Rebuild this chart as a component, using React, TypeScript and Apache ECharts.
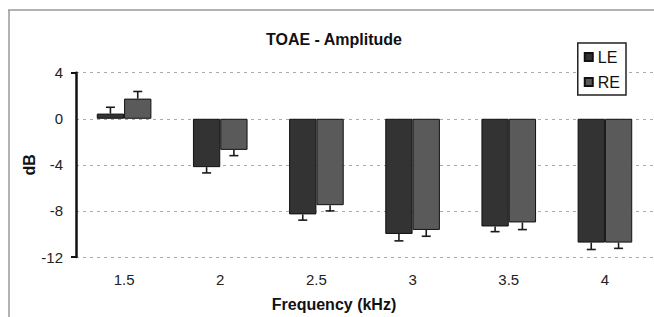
import React, { useEffect, useRef } from "react";
import * as echarts from "echarts";

const categories = ["1.5", "2", "2.5", "3", "3.5", "4"];
const leValues = [0.45, -4.2, -8.3, -10.0, -9.35, -10.75];
const reValues = [1.75, -2.7, -7.5, -9.65, -9.0, -10.75];
const leErrors = [0.55, 0.5, 0.5, 0.6, 0.45, 0.6];
const reErrors = [0.62, 0.5, 0.5, 0.55, 0.62, 0.5];
const yTicks = { min: -12, max: 4, interval: 4 };

const BAR_PCT = 0.284;
const FONT = "Liberation Sans, Arial, sans-serif";

function errorSeries(values: number[], errors: number[], side: number) {
  return {
    type: "custom",
    z: 5,
    silent: true,
    data: values.map((v, i) => [i, v, errors[i]]),
    renderItem: (_params: any, api: any) => {
      const i = api.value(0);
      const v = api.value(1);
      const e = api.value(2);
      const base = api.coord([i, v]);
      const end = api.coord([i, v + (v >= 0 ? e : -e)]);
      const band = api.size([1, 0])[0];
      const x = base[0] + (side * band * BAR_PCT) / 2;
      const cap = 4.5;
      const style = { stroke: "#1a1a1a", lineWidth: 1.6 };
      return {
        type: "group",
        children: [
          { type: "line", shape: { x1: x, y1: base[1], x2: x, y2: end[1] }, style },
          { type: "line", shape: { x1: x - cap, y1: end[1], x2: x + cap, y2: end[1] }, style },
        ],
      };
    },
  };
}

export default function App() {
  const ref = useRef<HTMLDivElement>(null);
  useEffect(() => {
    if (!ref.current) return;
    const chart = echarts.init(ref.current, undefined, { renderer: "svg" });
    chart.setOption({
      animation: false,
      backgroundColor: "#ffffff",
      textStyle: { fontFamily: FONT },
      title: {
        text: "TOAE - Amplitude",
        left: 266,
        top: 31,
        padding: 0,
        textStyle: { fontFamily: FONT, fontSize: 16, fontWeight: "bold", color: "#111" },
      },
      legend: {
        data: ["LE", "RE"],
        orient: "vertical",
        right: 28,
        top: 43,
        padding: [6, 6, 5, 6],
        itemGap: 9,
        itemWidth: 8,
        itemHeight: 8,
        borderColor: "#222",
        borderWidth: 1.5,
        backgroundColor: "#fff",
        icon: "rect",
        textStyle: { fontFamily: FONT, fontSize: 16, color: "#111" },
      },
      graphic: [
        { type: "line", shape: { x1: 8, y1: 10, x2: 654, y2: 10 }, style: { stroke: "#999", lineWidth: 1.5 } },
        { type: "line", shape: { x1: 9, y1: 10, x2: 9, y2: 317 }, style: { stroke: "#999", lineWidth: 1.5 } },
      ],
      grid: { left: 76, right: 1, top: 72.7, bottom: 57.7 },
      xAxis: {
        type: "category",
        data: categories,
        axisLine: { show: false },
        axisTick: { show: false },
        axisLabel: { margin: 15, fontSize: 15, color: "#222", fontFamily: FONT },
        name: "Frequency (kHz)",
        nameLocation: "middle",
        nameGap: 39,
        nameMoveOverlap: false,
        nameTextStyle: {
          fontFamily: FONT,
          fontSize: 16,
          fontWeight: "bold",
          color: "#111",
          padding: [0, 61, 0, 0],
        },
      },
      yAxis: [
        {
          type: "value",
          min: yTicks.min,
          max: yTicks.max,
          interval: yTicks.interval,
          axisLine: { show: false },
          axisTick: { show: false },
          axisLabel: { margin: 13, fontSize: 15, color: "#222", fontFamily: FONT },
          splitLine: { lineStyle: { color: "#aaa", type: [3, 4], width: 1 } },
          name: "dB",
          nameLocation: "middle",
          nameGap: 39,
          nameMoveOverlap: false,
          nameTextStyle: { fontFamily: FONT, fontSize: 16, fontWeight: "bold", color: "#111" },
        },
        {
          type: "value",
          position: "left",
          min: yTicks.min,
          max: yTicks.max,
          interval: yTicks.max - yTicks.min,
          axisLine: { show: true, lineStyle: { color: "#111", width: 2.5 } },
          axisTick: { show: true, length: 5, lineStyle: { color: "#111", width: 2 } },
          axisLabel: { show: false },
          splitLine: { show: false },
        },
      ],
      series: [
        {
          name: "LE",
          type: "bar",
          data: leValues,
          barWidth: BAR_PCT * 100 + "%",
          barGap: "0%",
          itemStyle: { color: "#333333", borderColor: "#111", borderWidth: 1 },
        },
        {
          name: "RE",
          type: "bar",
          data: reValues,
          barWidth: BAR_PCT * 100 + "%",
          barGap: "0%",
          itemStyle: { color: "#5a5a5a", borderColor: "#111", borderWidth: 1 },
        },
        errorSeries(leValues, leErrors, -1),
        errorSeries(reValues, reErrors, 1),
      ],
    });
    return () => chart.dispose();
  }, []);
  return (
    <div
      ref={ref}
      style={{ position: "absolute", left: 0, top: 0, width: 654, height: 317 }}
    />
  );
}
